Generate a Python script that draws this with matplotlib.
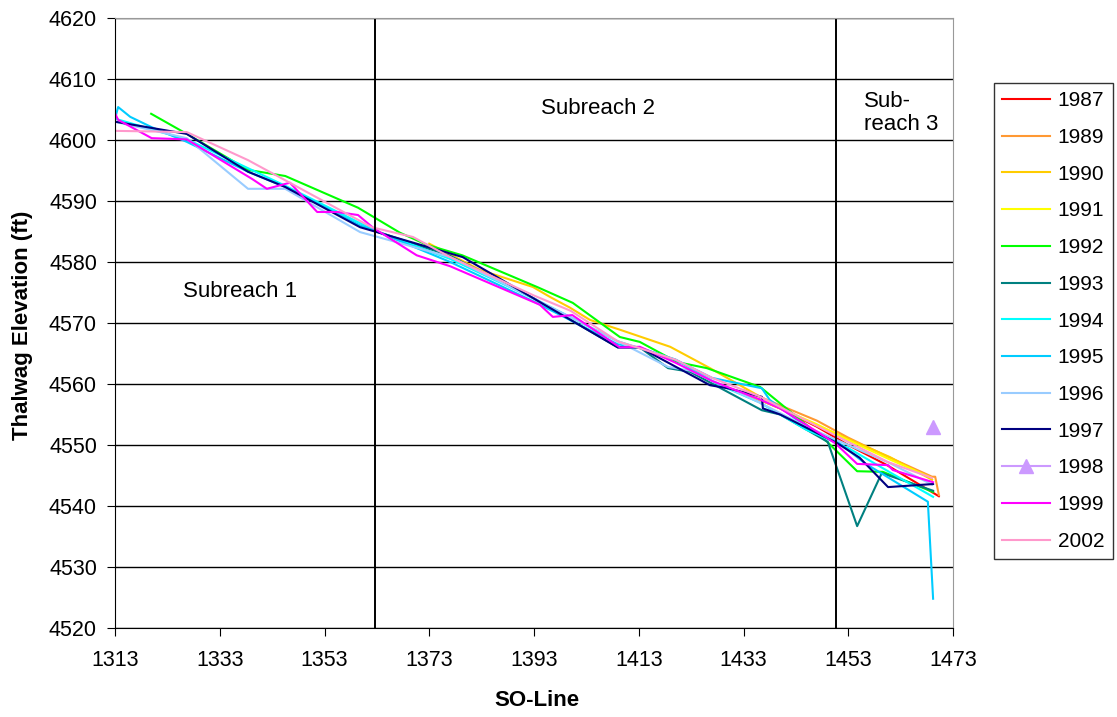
import matplotlib.pyplot as plt

plt.rcParams['font.family'] = ['Liberation Sans', 'DejaVu Sans']

# Thalwag elevation survey data (SO-Line station, elevation in ft)
years = ['1987', '1989', '1990', '1991', '1992', '1993', '1994',
         '1995', '1996', '1997', '1998', '1999', '2002']
colors = ['#FF0000', '#FF9933', '#FFCC00', '#FFFF00', '#00FF00', '#008080', '#00FFFF',
          '#00CCFF', '#99CCFF', '#000080', '#CC99FF', '#FF00FF', '#FF99CC']

x_1987 = [1433, 1440, 1447, 1453, 1460.4, 1470.3]
y_1987 = [4558.5, 4556, 4553, 4550, 4546.7, 4541.6]

x_1989 = [1433, 1440, 1447, 1453, 1460, 1469, 1469.6, 1470.3]
y_1989 = [4559, 4556.5, 4554, 4551.2, 4548.3, 4544.8, 4544.8, 4541.8]

x_1990 = [1373, 1382.7, 1392.8, 1396, 1399.9, 1403.7, 1409.4, 1419, 1426.6, 1436, 1445, 1453, 1461, 1469]
y_1990 = [4583, 4578.7, 4575.9, 4574.3, 4572.5, 4570.5, 4568.9, 4566.1, 4562.6, 4558, 4554, 4551, 4548, 4544.3]

x_1991 = [1433, 1440, 1447, 1453, 1461, 1469]
y_1991 = [4558.5, 4556, 4553.4, 4550.8, 4547.6, 4544.6]

x_1992 = [1319.9, 1326.7, 1338.4, 1345.5, 1359.4, 1367.4, 1372.6, 1379.3, 1393.6, 1400.4, 1409.4,
          1413.2, 1420.3, 1426, 1436.2, 1449, 1454.7, 1459.6, 1469.2]
y_1992 = [4604.3, 4601, 4595.1, 4594.1, 4588.9, 4584.8, 4582.8, 4581.1, 4575.9, 4573.3, 4567.7,
          4566.9, 4563.6, 4562.6, 4559.5, 4550.5, 4545.7, 4545.6, 4542.3]

x_1993 = [1363, 1377, 1393, 1409, 1413.2, 1418.6, 1422.8, 1436.5, 1440, 1449.1, 1454.7, 1459.4, 1469.2]
y_1993 = [4585, 4581, 4574, 4566, 4566, 4562.6, 4562, 4555.7, 4555, 4550.5, 4536.7, 4545.4, 4542.5]

x_1994 = [1313, 1327, 1345.5, 1363, 1377, 1393, 1409, 1420, 1428, 1436, 1445, 1453, 1461, 1469.2]
y_1994 = [4603.5, 4600, 4592.5, 4585, 4580.5, 4574, 4567, 4564, 4560, 4557, 4552.5, 4549.5, 4545.5, 4541.5]

x_1995 = [1313, 1313.6, 1315.9, 1320, 1326.7, 1338.4, 1345.5, 1359.8, 1363, 1377, 1393, 1409, 1413,
          1420, 1427, 1436.5, 1438, 1445, 1451, 1456.2, 1468.2, 1469.2]
y_1995 = [4603.5, 4605.4, 4603.8, 4602.1, 4599.7, 4594.8, 4592.3, 4586, 4585, 4580, 4573.5, 4566.5, 4566,
          4564, 4561, 4559.3, 4557.4, 4553, 4550.5, 4547, 4540.7, 4524.8]

x_1996 = [1313, 1326.7, 1338.4, 1345.5, 1359.8, 1367.4, 1377, 1393, 1409, 1418.6, 1422.8, 1436, 1445, 1453, 1461, 1469]
y_1996 = [4603, 4600.3, 4592, 4592, 4584.9, 4583.1, 4580.8, 4574, 4567, 4562.8, 4562.2, 4557, 4553, 4550, 4547, 4543.5]

x_1997 = [1313, 1326.7, 1338.4, 1345.5, 1359.8, 1363, 1379.4, 1409, 1413.2, 1426.6, 1430, 1436.5, 1436.7,
          1440, 1450.9, 1455.2, 1460.6, 1469.2]
y_1997 = [4603, 4601, 4594.8, 4592.3, 4585.7, 4584.9, 4580.8, 4566, 4566, 4559.8, 4559.3, 4557.9, 4556,
          4555, 4550.3, 4547.9, 4543.1, 4543.6]

x_1998 = [1469.2]
y_1998 = [4553]

x_1999 = [1313, 1313.6, 1320, 1326.7, 1339.2, 1342, 1346.4, 1351.6, 1355.4, 1359.4, 1362.3, 1370.6, 1377,
          1394.1, 1396.6, 1400.3, 1409.4, 1413.2, 1420, 1427, 1436, 1440, 1450.5, 1454.7, 1460.6, 1461.5, 1469.2]
y_1999 = [4604.4, 4603.3, 4600.3, 4600.1, 4593.6, 4592, 4593, 4588.2, 4588.2, 4587.7, 4585.6, 4581.1, 4579.3,
          4573, 4571, 4571.3, 4566, 4566.1, 4563.5, 4560.5, 4557.5, 4556, 4550.3, 4546.9, 4546.7, 4545.9, 4543.9]

x_2002 = [1313, 1326.7, 1338.4, 1345.5, 1362, 1369.9, 1377, 1393, 1400, 1409, 1420, 1427, 1436, 1445, 1453, 1460.6, 1469]
y_2002 = [4601.5, 4601.3, 4596.7, 4593.4, 4585.7, 4584.1, 4580.8, 4574.5, 4572, 4567, 4564, 4561, 4558, 4554, 4550.5, 4547.2, 4544.6]

series_x = [x_1987, x_1989, x_1990, x_1991, x_1992, x_1993, x_1994, x_1995, x_1996, x_1997, x_1998, x_1999, x_2002]
series_y = [y_1987, y_1989, y_1990, y_1991, y_1992, y_1993, y_1994, y_1995, y_1996, y_1997, y_1998, y_1999, y_2002]

subreach_bounds = [1362.6, 1450.7]

fig = plt.figure(figsize=(11.17, 7.17), dpi=100)
ax = fig.add_axes([115 / 1117, 1 - 628 / 717, (953 - 115) / 1117, (628 - 18) / 717])

for yr, c, xs, ys in zip(years, colors, series_x, series_y):
    if yr == '1998':
        ax.plot(xs, ys, color=c, lw=1.5, marker='^', markersize=10, label=yr)
    else:
        ax.plot(xs, ys, color=c, lw=1.5, label=yr)

for xb in subreach_bounds:
    ax.axvline(xb, color='black', lw=1.4)

# subreach annotations
ax.text(1336.9, 4575.1, 'Subreach 1', fontsize=16, ha='center', va='center')
ax.text(1405.2, 4605.2, 'Subreach 2', fontsize=16, ha='center', va='center')
ax.text(1456.0, 4604.4, 'Sub-\nreach 3', fontsize=16, ha='left', va='center', linespacing=1.15)

ax.set_xlim(1313, 1473)
ax.set_ylim(4520, 4620)
ax.set_xticks(range(1313, 1474, 20))
ax.set_yticks(range(4520, 4621, 10))
ax.yaxis.grid(True, color='black', lw=1)
ax.set_axisbelow(True)
ax.tick_params(labelsize=15.5, direction='out', length=6)
ax.tick_params(axis='x', pad=10)
ax.tick_params(axis='y', pad=7)
for side in ['top', 'right']:
    ax.spines[side].set_color('#999999')

fig.text(537 / 1117, 1 - 700 / 717, 'SO-Line', fontsize=16, fontweight='bold', ha='center', va='center')
fig.text(23 / 1117, 1 - 325 / 717, 'Thalwag Elevation (ft)', fontsize=16, fontweight='bold',
         ha='center', va='center', rotation=90)

leg = fig.legend(loc='upper left', bbox_to_anchor=(994 / 1117, 1 - 83 / 717), fontsize=15,
                 frameon=True, fancybox=False, edgecolor='black', handlelength=2.3,
                 labelspacing=0.85, borderpad=0.4, handletextpad=0.35, borderaxespad=0)
leg.get_frame().set_linewidth(1)

plt.savefig('out.png', dpi=100)
